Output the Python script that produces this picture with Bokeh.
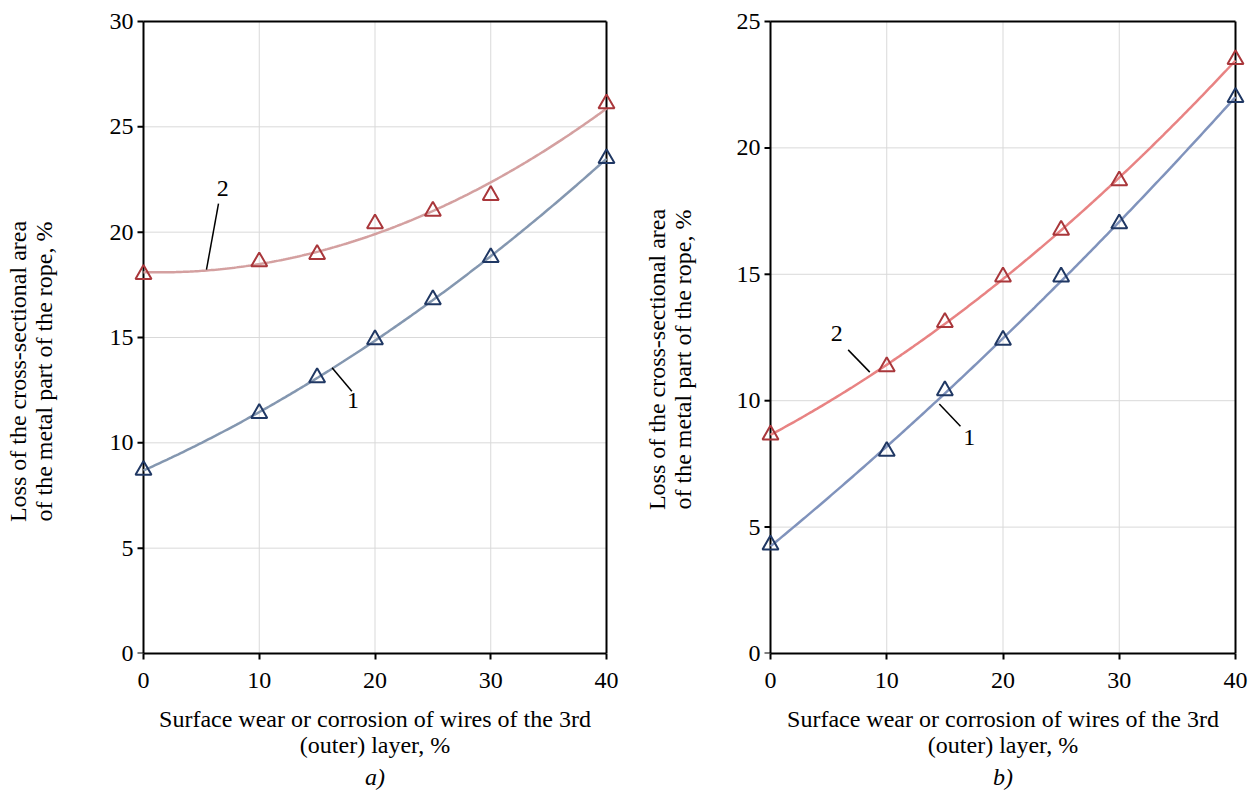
import numpy as np
from bokeh.plotting import figure
from bokeh.layouts import row
from bokeh.models import Range1d, FixedTicker, LinearAxis
from bokeh.core.properties import value
from bokeh.embed import file_html
from bokeh.resources import INLINE

# ---------------- data ----------------
x_vals = [0, 10, 15, 20, 25, 30, 40]

a_series1 = [8.7, 11.4, 13.1, 14.9, 16.8, 18.8, 23.5]
a_series2 = [18.0, 18.6, 18.95, 20.4, 21.0, 21.75, 26.1]

b_series1 = [4.3, 8.0, 10.4, 12.4, 14.9, 17.0, 22.0]
b_series2 = [8.65, 11.35, 13.1, 14.9, 16.75, 18.7, 23.5]

x_ticks = [0, 10, 20, 30, 40]
a_y_ticks = [0, 5, 10, 15, 20, 25, 30]
b_y_ticks = [0, 5, 10, 15, 20, 25]

x_title = "Surface wear or corrosion of wires of the 3rd\n(outer) layer, %"
y_title_lines = ["Loss of the cross-sectional area",
                 "of the metal part of the rope, %"]

# annotation positions (data units): label text, text pos, leader start, leader end
a_notes = [("2", (6.85, 22.05), (6.48, 21.36), (5.44, 18.22)),
           ("1", (18.1, 12.0), (16.29, 13.56), (18.0, 12.45))]
b_notes = [("2", (5.7, 12.65), (6.68, 12.01), (8.54, 11.13)),
           ("1", (17.1, 8.55), (14.52, 9.87), (16.34, 8.99))]

FONT = "Liberation Serif"
BLUE_M = "#203864"
RED_M = "#A9373B"
XMAX = 40
NBSP = "\u00a0"


def make_panel(s1, s2, ymax, yticks, notes, caption, w, h,
               px_left, px_right, px_top, px_bottom, line1, line2,
               ylab_shift_spaces, ylab_standoff):
    # px_* : page-pixel positions of the data box (x=0, x=40, y=ymax, y=0)
    padx, pady = 10, 4
    box_w = px_right - px_left
    box_h = px_bottom - px_top
    ux = XMAX / box_w
    uy = ymax / box_h
    bl = px_left - padx
    bt = px_top - pady
    fw = box_w + 2 * padx
    fh = box_h + pady
    br = w - bl - fw
    bb = h - bt - fh
    p = figure(width=w, height=h, output_backend="svg", toolbar_location=None,
               x_range=Range1d(-padx * ux, XMAX + padx * ux),
               y_range=Range1d(0, ymax + pady * uy),
               min_border_left=bl, min_border_right=br,
               min_border_top=bt, min_border_bottom=bb)
    p.outline_line_color = None
    p.background_fill_color = "white"
    p.border_fill_color = "white"
    p.xgrid.visible = False
    p.ygrid.visible = False

    p.xaxis.ticker = FixedTicker(ticks=x_ticks)
    p.yaxis.ticker = FixedTicker(ticks=yticks)
    p.xaxis.bounds = (0, XMAX)
    for ax in (p.xaxis[0], p.yaxis[0]):
        ax.axis_line_color = "black"
        ax.axis_line_width = 2
        ax.major_tick_line_color = "black"
        ax.major_tick_line_width = 2
        ax.major_tick_out = 6
        ax.major_tick_in = 0
        ax.minor_tick_line_color = None
        ax.major_label_text_font = FONT
        ax.major_label_text_font_size = "24px"
        ax.major_label_text_color = "black"
        ax.axis_label_text_font = FONT
        ax.axis_label_text_font_size = "24px"
        ax.axis_label_text_font_style = "normal"
        ax.axis_label_text_color = "black"
        ax.axis_label_text_line_height = 1.0
    # y axis sits at the frame edge (padx left of x=0): hide its line/ticks,
    # they are drawn at x=0 below
    p.yaxis.axis_line_color = None
    p.yaxis.major_tick_line_color = None
    p.yaxis.major_tick_out = 0
    p.yaxis.major_label_standoff = 0
    p.xaxis.axis_label = x_title
    p.xaxis.major_label_standoff = 13
    p.xaxis.axis_label_standoff = 15

    # y title on a tick-less helper axis; trailing no-break spaces move the
    # visible text down to where Excel placed it
    pad = NBSP * ylab_shift_spaces
    y_title = "\n".join(line + pad for line in y_title_lines)
    ytitle_axis = LinearAxis(ticker=FixedTicker(ticks=[]),
                             axis_line_color=None, major_tick_line_color=None,
                             minor_tick_line_color=None, major_tick_out=0,
                             major_tick_in=0, major_label_standoff=0,
                             major_label_text_font_size="0px",
                             axis_label=y_title, axis_label_text_font=FONT,
                             axis_label_text_font_size="24px",
                             axis_label_text_font_style="normal",
                             axis_label_text_color="black",
                             axis_label_text_line_height=1.0,
                             axis_label_standoff=ylab_standoff)
    p.add_layout(ytitle_axis, "left")

    cap = LinearAxis(ticker=FixedTicker(ticks=[]), axis_line_color=None,
                     major_tick_line_color=None, minor_tick_line_color=None,
                     axis_label=caption, axis_label_text_font=FONT,
                     axis_label_text_font_size="24px",
                     axis_label_text_font_style="italic",
                     axis_label_text_color="black", axis_label_standoff=3,
                     major_label_text_font_size="0px")
    p.add_layout(cap, "below")

    # grid lines (inside the data box only)
    gx = x_ticks[1:-1]
    p.segment(x0=gx, y0=[0] * len(gx), x1=gx, y1=[ymax] * len(gx),
              line_color="#D9D9D9", line_width=1)
    gy = yticks[1:-1]
    p.segment(x0=[0] * len(gy), y0=gy, x1=[XMAX] * len(gy), y1=gy,
              line_color="#D9D9D9", line_width=1)
    # y tick marks at x=0
    p.segment(x0=[-6 * ux] * len(yticks), y0=yticks, x1=[0] * len(yticks),
              y1=yticks, line_color="black", line_width=2)
    # box: left, top and right edges
    p.segment(x0=[0, 0, XMAX], y0=[0, ymax, 0], x1=[0, XMAX, XMAX],
              y1=[ymax, ymax, ymax], line_color="black", line_width=2)

    xs = np.linspace(0, XMAX, 200)
    c1 = np.polyfit(x_vals, s1, 2)
    c2 = np.polyfit(x_vals, s2, 2)
    p.line(xs, np.polyval(c1, xs), line_color=line1, line_width=2.5)
    p.line(xs, np.polyval(c2, xs), line_color=line2, line_width=2.5)

    p.scatter(x_vals, s1, marker="triangle", size=16, fill_color=None,
              line_color=BLUE_M, line_width=2)
    p.scatter(x_vals, s2, marker="triangle", size=16, fill_color=None,
              line_color=RED_M, line_width=2)

    for lab, tpos, l0, l1 in notes:
        p.segment(x0=[l0[0]], y0=[l0[1]], x1=[l1[0]], y1=[l1[1]],
                  line_color="black", line_width=1.5)
        p.text(x=[tpos[0]], y=[tpos[1]], text=[lab], text_font=value(FONT),
               text_font_size="24px", text_align="center",
               text_baseline="middle", text_color="black")
    return p


pa = make_panel(a_series1, a_series2, 30, a_y_ticks, a_notes, "a)",
                628, 795, 143, 606, 21, 653, "#8497B0", "#D4A0A0", 12, 50)
pb = make_panel(b_series1, b_series2, 25, b_y_ticks, b_notes, "b)",
                626, 795, 770 - 628, 1235 - 628, 19, 653, "#8093BC", "#E88383",
                8, 38)

layout = row(pa, pb)
open("out.html", "w").write(file_html(layout, INLINE))
